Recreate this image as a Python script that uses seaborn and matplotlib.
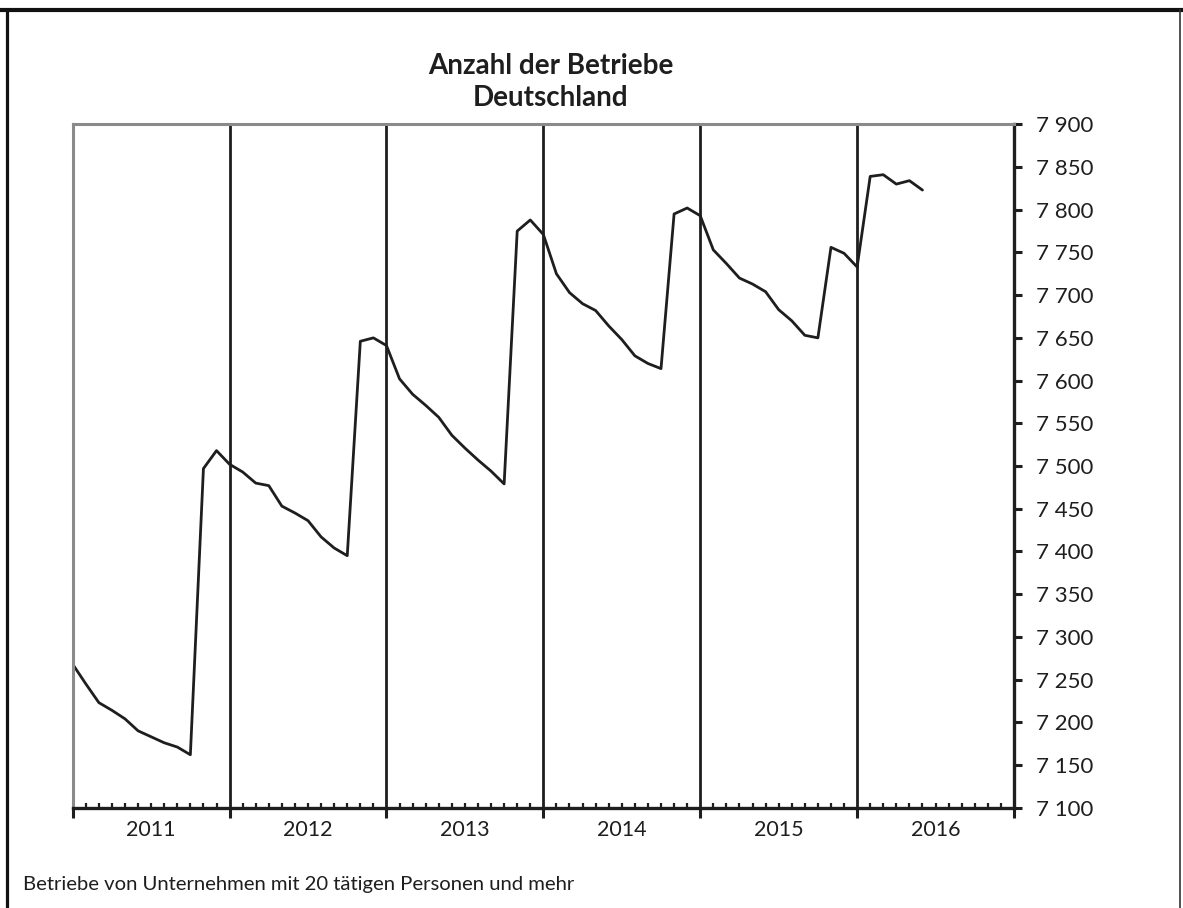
import numpy as np
import matplotlib
matplotlib.use("Agg")
import matplotlib.pyplot as plt
from matplotlib.lines import Line2D
from matplotlib.ticker import FixedLocator
import seaborn as sns

# Data: monthly number of establishments, Jan 2011 .. Jun 2016
years = ["2011", "2012", "2013", "2014", "2015", "2016"]
betriebe_2011 = [7268, 7245, 7223, 7214, 7204, 7190, 7183, 7176, 7171, 7162, 7497, 7518]
betriebe_2012 = [7502, 7493, 7480, 7477, 7453, 7445, 7436, 7417, 7404, 7395, 7646, 7650]
betriebe_2013 = [7641, 7602, 7584, 7571, 7557, 7536, 7521, 7507, 7494, 7479, 7775, 7788]
betriebe_2014 = [7771, 7725, 7703, 7690, 7682, 7664, 7648, 7629, 7620, 7614, 7795, 7802]
betriebe_2015 = [7793, 7753, 7737, 7720, 7713, 7704, 7683, 7670, 7653, 7650, 7756, 7749]
betriebe_2016 = [7733, 7839, 7841, 7830, 7834, 7823]
y_ticks = list(range(7100, 7901, 50))

values = (betriebe_2011 + betriebe_2012 + betriebe_2013 + betriebe_2014
          + betriebe_2015 + betriebe_2016)
month_idx = np.arange(len(values))

sns.set_style("white")
plt.rcParams['font.family'] = ['Lato', 'DejaVu Sans']

ink = '#1e1e1e'
fig = plt.figure(figsize=(11.83, 9.08), dpi=100)
ax = fig.add_axes([72.7 / 1183, 1 - 807.7 / 908, (1014 - 72.7) / 1183, (807.7 - 124.3) / 908])

sns.lineplot(x=month_idx, y=values, ax=ax, color=ink, linewidth=2.0)

# year separators
for i in range(1, len(years)):
    ax.axvline(12 * i, color=ink, linewidth=2.0, zorder=1)

ax.set_xlim(0, 12 * len(years))
ax.set_ylim(7100, 7900)

# spines
for side in ['top', 'left']:
    ax.spines[side].set_color('#8a8a8a')
    ax.spines[side].set_linewidth(2.2)
for side in ['right', 'bottom']:
    ax.spines[side].set_color(ink)
    ax.spines[side].set_linewidth(2.4)

# x ticks: year boundaries out, months in
ax.xaxis.set_major_locator(FixedLocator([12 * i for i in range(len(years) + 1)]))
ax.xaxis.set_minor_locator(FixedLocator([m for m in range(12 * len(years)) if m % 12]))
ax.tick_params(axis='x', which='major', direction='out', length=7, width=2.2,
               color=ink, labelbottom=False, bottom=True)
ax.tick_params(axis='x', which='minor', direction='in', length=3.8, width=1.6,
               color=ink, bottom=True)

# y axis on the right
ax.yaxis.tick_right()
ax.set_yticks(y_ticks)
ax.set_yticklabels([f"{v:,}".replace(",", " ") for v in y_ticks])
ax.tick_params(axis='y', which='major', direction='out', length=6, width=2.2,
               color=ink, pad=10, labelsize=16, labelcolor=ink, right=True, left=False)
ax.set_xlabel("")
ax.set_ylabel("")

# year labels centred under each year
for i, yr in enumerate(years):
    ax.text(12 * i + 6, -0.0414, yr, transform=ax.get_xaxis_transform(),
            ha='center', va='baseline', fontsize=15.5, color=ink)

# title
fig.text(551 / 1183, 1 - 74 / 908, "Anzahl der Betriebe", ha='center', va='baseline',
         fontsize=20, fontweight='bold', color=ink)
fig.text(551 / 1183, 1 - 106 / 908, "Deutschland", ha='center', va='baseline',
         fontsize=20, fontweight='bold', color=ink)

# footnote
fig.text(23 / 1183, 1 - 890 / 908, "Betriebe von Unternehmen mit 20 tätigen Personen und mehr",
         ha='left', va='baseline', fontsize=14.6, color=ink)

# frame around the graphic
fig.add_artist(Line2D([0, 1], [1 - 9.5 / 908] * 2, transform=fig.transFigure,
                      color='#111111', linewidth=3.0))
fig.add_artist(Line2D([6.5 / 1183] * 2, [0, 1 - 9.5 / 908], transform=fig.transFigure,
                      color='#111111', linewidth=2.3))
fig.add_artist(Line2D([1180 / 1183] * 2, [0, 1 - 9.5 / 908], transform=fig.transFigure,
                      color='#333333', linewidth=1.2))

fig.savefig("out.png", dpi=100)
